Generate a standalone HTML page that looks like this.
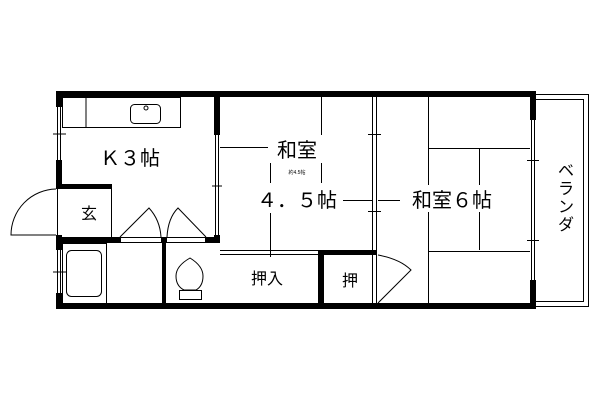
<!DOCTYPE html>
<html><head><meta charset="utf-8"><style>
html,body{margin:0;padding:0;background:#fff;}
svg{display:block}
text{font-family:"Liberation Sans","Noto Sans CJK JP",sans-serif;fill:#000}
</style></head><body>
<svg width="600" height="400" viewBox="0 0 600 400" xmlns="http://www.w3.org/2000/svg">
<g fill="#000" stroke="none">
<rect x="56" y="91" width="480" height="6"/>
<rect x="56" y="303" width="480" height="6"/>
<rect x="56" y="91" width="6" height="16"/>
<rect x="56" y="160" width="6" height="28"/>
<rect x="56" y="235" width="6" height="15"/>
<rect x="56" y="293" width="6" height="16"/>
<rect x="530" y="91" width="6" height="29"/>
<rect x="530" y="280" width="6" height="29"/>
<rect x="214" y="97" width="6" height="38"/>
<rect x="214" y="235" width="6" height="8"/>
<rect x="56" y="184" width="56" height="5"/>
<rect x="56" y="237" width="64" height="6"/>
<rect x="162" y="237" width="4" height="6"/>
<rect x="206" y="237" width="14" height="6"/>
<rect x="162" y="237" width="4" height="72"/>
<rect x="318" y="250" width="58" height="5"/>
<rect x="318" y="250" width="6" height="59"/>
</g>
<g fill="none" stroke="#000" stroke-width="1">
<line x1="57.5" y1="107" x2="57.5" y2="160"/><line x1="60.5" y1="107" x2="60.5" y2="160"/>
<line x1="53" y1="134" x2="66" y2="134"/>
<line x1="57.5" y1="250" x2="57.5" y2="293"/><line x1="60.5" y1="250" x2="60.5" y2="293"/>
<line x1="53" y1="272" x2="66" y2="272"/>
<line x1="57.5" y1="188" x2="57.5" y2="235"/>
<line x1="111.5" y1="189" x2="111.5" y2="237"/>
<path d="M56 189 A46 46 0 0 0 11 235 L56 235"/>
<rect x="62.5" y="97.5" width="118" height="30"/>
<line x1="86" y1="97" x2="86" y2="127"/>
<rect x="130.5" y="104.5" width="30" height="19" rx="4"/>
<circle cx="146" cy="108" r="2"/>
<line x1="215.5" y1="135" x2="215.5" y2="237"/><line x1="218.5" y1="135" x2="218.5" y2="237"/>
<line x1="212" y1="186" x2="222" y2="186"/>
<rect x="120.5" y="237.5" width="41" height="5"/>
<rect x="166.5" y="237.5" width="39" height="5"/>
<path d="M120 237 L149 208 Q160 220 161 237"/>
<path d="M167 237 Q168 218 178 208 L206 237"/>
<rect x="62.5" y="243.5" width="44" height="60"/>
<rect x="66.5" y="250.5" width="35" height="46" rx="5"/>
<path d="M190 258 Q176 266 176 276 Q176 286 184 290 L196 290 Q203 286 203 276 Q203 266 190 258 Z"/>
<rect x="179.5" y="290.5" width="22" height="9"/>
<line x1="220" y1="250.5" x2="318" y2="250.5"/><line x1="220" y1="254.5" x2="318" y2="254.5"/>
<line x1="220" y1="147.5" x2="268" y2="147.5"/>
<line x1="270.5" y1="163" x2="270.5" y2="183"/>
<line x1="270.5" y1="213" x2="270.5" y2="257"/>
<line x1="321.5" y1="97" x2="321.5" y2="135"/>
<line x1="321.5" y1="163" x2="321.5" y2="183"/>
<line x1="343" y1="200.5" x2="372" y2="200.5"/>
<line x1="378" y1="200.5" x2="400" y2="200.5"/>
<line x1="372.5" y1="97" x2="372.5" y2="303"/><line x1="376.5" y1="97" x2="376.5" y2="303"/>
<line x1="368" y1="134.5" x2="381" y2="134.5"/><line x1="368" y1="211.5" x2="381" y2="211.5"/>
<path d="M378 255 Q400 259 411 270 L378 303"/>
<line x1="428.5" y1="97" x2="428.5" y2="185"/>
<line x1="428.5" y1="212" x2="428.5" y2="303"/>
<line x1="428" y1="148.5" x2="530" y2="148.5"/>
<line x1="479.5" y1="148" x2="479.5" y2="185"/>
<line x1="479.5" y1="212" x2="479.5" y2="250"/>
<line x1="428" y1="251.5" x2="530" y2="251.5"/>
<line x1="531.5" y1="120" x2="531.5" y2="280"/><line x1="534.5" y1="120" x2="534.5" y2="280"/>
<line x1="527" y1="160.5" x2="539" y2="160.5"/><line x1="527" y1="240.5" x2="539" y2="240.5"/>
<path d="M536 94.5 H588.5 V306.5 H536"/>
<path d="M536 99.5 H583.5 V301.5 H536"/>
</g>
<g font-size="20">
<text x="130" y="165" text-anchor="middle">Ｋ３帖</text>
<text x="297" y="157" text-anchor="middle">和室</text>
<text x="297" y="207" text-anchor="middle">４．５帖</text>
<text x="452" y="207" text-anchor="middle">和室６帖</text>
</g>
<text x="297" y="174" font-size="5" text-anchor="middle">約4.5帖</text>
<text x="89" y="219" font-size="16" text-anchor="middle">玄</text>
<text x="267" y="284" font-size="16" text-anchor="middle">押入</text>
<text x="350" y="286" font-size="16" text-anchor="middle">押</text>
<g font-size="16" text-anchor="middle">
<text x="566" y="176">ベ</text>
<text x="566" y="194">ラ</text>
<text x="566" y="212">ン</text>
<text x="566" y="230">ダ</text>
</g>
</svg>
</body></html>
